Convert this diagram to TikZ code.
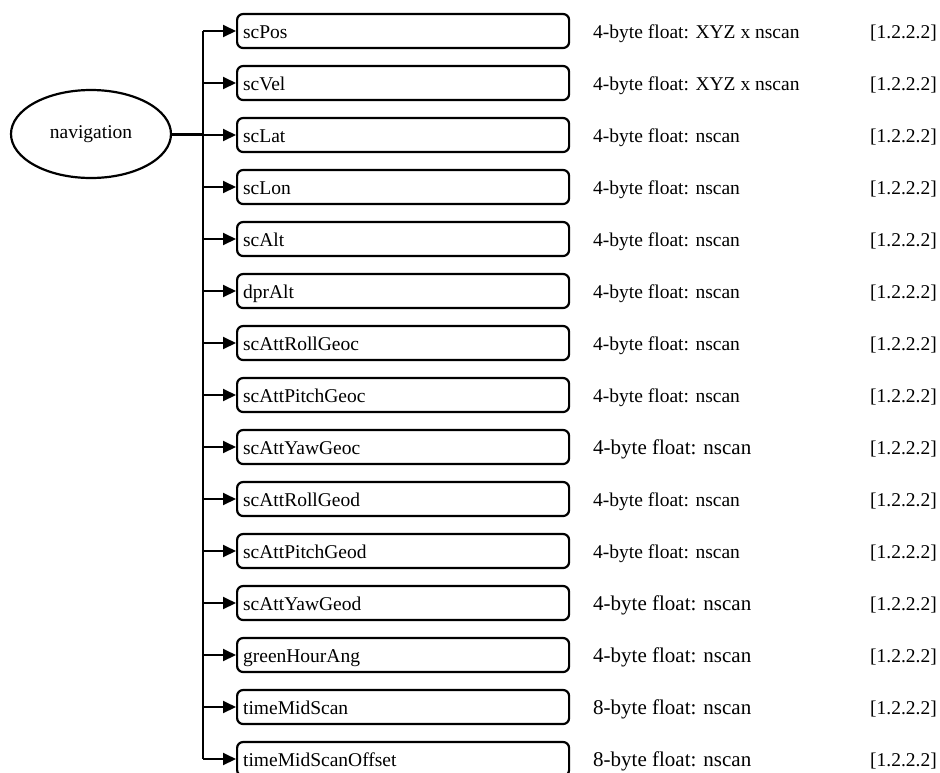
\documentclass[tikz,border=0pt]{standalone}
\usepackage{fontspec}
\setmainfont{Liberation Serif}
\usetikzlibrary{arrows.meta,shapes.geometric}

\tikzset{
  field/.style={draw,line width=2.2pt,rounded corners=6pt,anchor=west,
    minimum height=34pt,text width=320pt,inner xsep=6pt,align=left,
    text height=17pt,text depth=3pt,
    font=\fontsize{19.5}{22}\selectfont},
  desc/.style={anchor=base west,inner sep=0pt,font=\fontsize{19.5}{22}\selectfont},
  bigdesc/.style={desc,font=\fontsize{21}{24}\selectfont},
  ref/.style={anchor=base east,inner sep=0pt,font=\fontsize{19.5}{22}\selectfont},
  branch/.style={line width=2pt,-{Triangle[length=13pt,width=12pt]}}
}

\begin{document}
\begin{tikzpicture}[x=1pt,y=-1pt,line join=round]
  \useasboundingbox (0,0) rectangle (940,772);

  \node[ellipse,draw,line width=2.2pt,minimum width=160pt,minimum height=88pt,
    font=\fontsize{19.5}{22}\selectfont] (nav) at (91,134) {navigation};
  \coordinate (bus) at (203,134);

  % fields: name / type / style
  \foreach \name/\type/\sty [count=\i] in {
      scPos/4-byte float: XYZ x nscan/desc,
      scVel/4-byte float: XYZ x nscan/desc,
      scLat/4-byte float: nscan/desc,
      scLon/4-byte float: nscan/desc,
      scAlt/4-byte float: nscan/desc,
      dprAlt/4-byte float: nscan/desc,
      scAttRollGeoc/4-byte float: nscan/desc,
      scAttPitchGeoc/4-byte float: nscan/desc,
      scAttYawGeoc/4-byte float: nscan/bigdesc,
      scAttRollGeod/4-byte float: nscan/desc,
      scAttPitchGeod/4-byte float: nscan/desc,
      scAttYawGeod/4-byte float: nscan/bigdesc,
      greenHourAng/4-byte float: nscan/bigdesc,
      timeMidScan/8-byte float: nscan/bigdesc,
      timeMidScanOffset/8-byte float: nscan/bigdesc} {
    \pgfmathsetmacro{\y}{31+(\i-1)*52}
    \node[field] (f\i) at (236,\y) {\name};
    \node[\sty] (t\i) at (593,\y+7) {\type};
    \node[ref] (r\i) at (937,\y+7) {[1.2.2.2]};
    \draw[branch] (bus |- f\i.west) -- (f\i.west);
  }

  \draw[line width=2.6pt] (bus |- f1.west) -- (bus |- f15.west);
  \draw[line width=3pt] (nav.east) -- (bus);
\end{tikzpicture}
\end{document}
